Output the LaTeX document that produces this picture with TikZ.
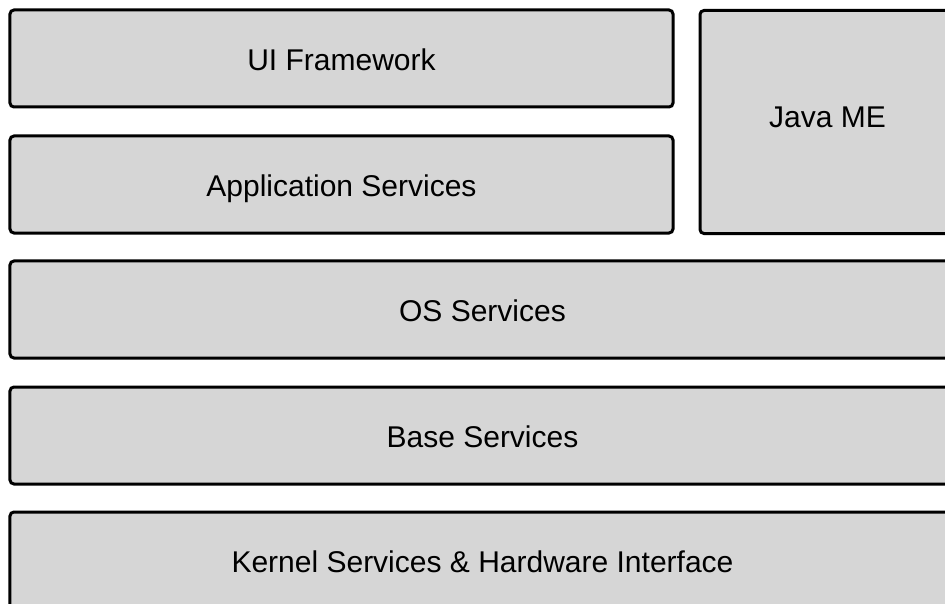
\documentclass[tikz,border=0pt]{standalone}
\usepackage{fontspec}
\setmainfont{Liberation Sans}
\begin{document}
\begin{tikzpicture}[x=1bp,y=-1bp,
  layer/.style={draw=black, fill=layergray, line width=3bp, rounded corners=4bp,
    inner sep=0pt, outer sep=0pt, text height=23.6bp, text depth=0pt,
    font=\fontsize{30bp}{36bp}\selectfont},
]
\definecolor{layergray}{HTML}{D6D6D6}
\useasboundingbox (0,0) rectangle (945,604);
\clip (0,0) rectangle (945,604);
% left-hand stack of the upper layers
\node[layer, minimum width=663bp, minimum height=97bp] (ui) at (341.5,58.5) {UI Framework};
\node[layer, minimum width=663bp, minimum height=97bp] (app) at (341.5,184.5) {Application Services};
% side block spanning both upper layers
\node[layer, text height=10.4bp, minimum width=255bp, minimum height=223bp] (java) at (827.5,122) {Java ME};
% full-width layers
\node[layer, minimum width=945bp, minimum height=97bp] (os) at (482.5,309.5) {OS Services};
\node[layer, minimum width=945bp, minimum height=97bp] (base) at (482.5,435.5) {Base Services};
\node[layer, minimum width=945bp, minimum height=98bp] (kernel) at (482.5,561) {Kernel Services \& Hardware Interface};
\end{tikzpicture}
\end{document}
